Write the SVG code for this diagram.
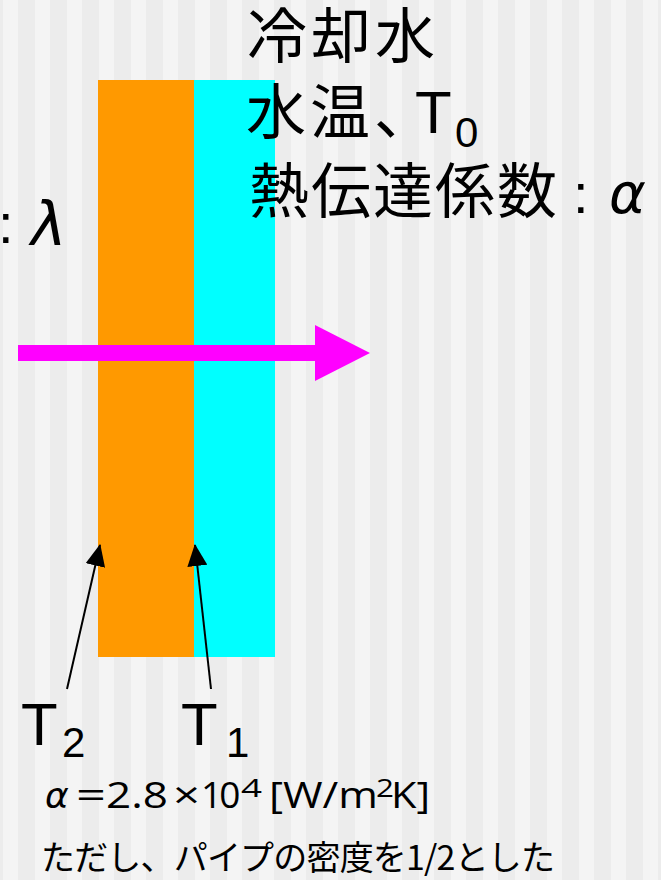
<svg xmlns="http://www.w3.org/2000/svg" width="661" height="880" viewBox="0 0 661 880">
<style>
.jp{font-family:"Noto Sans CJK JP","Noto Sans",sans-serif;fill:#000}
.lat{font-family:"Liberation Sans","Noto Sans",sans-serif;fill:#000}
.os{font-family:"Open Sans","Noto Sans",sans-serif;fill:#000}
.gr{font-family:"DejaVu Sans","Noto Sans",sans-serif;font-style:italic;fill:#000}
.ptr{stroke:#000;stroke-width:2;fill:none;marker-end:url(#ah)}
</style>
<defs>
<pattern id="stripes" patternUnits="userSpaceOnUse" x="3" y="0" width="32" height="880">
<rect x="0" y="0" width="32" height="880" fill="#ECECEC"/>
<rect x="0" y="0" width="15" height="880" fill="#F4F4F4"/>
</pattern>
<marker id="ah" markerUnits="userSpaceOnUse" markerWidth="22" markerHeight="20" refX="21" refY="10" orient="auto" viewBox="0 0 22 20">
<path d="M0,0 L22,10 L0,20 Z" fill="#000"/>
</marker>
</defs>
<rect x="0" y="0" width="661" height="880" fill="url(#stripes)"/>
<g id="pipe-wall"><rect x="98" y="80" width="96" height="577" fill="#FF9900"/></g>
<g id="water"><rect x="194" y="80" width="81" height="577" fill="#00FFFF"/></g>
<g id="heat-flow"><path d="M18,345 L315,345 L315,325 L370,353 L315,381 L315,361 L18,361 Z" fill="#FF00FF"/></g>
<g id="water-label">
<text class="jp" x="247" y="58" font-size="60" letter-spacing="4">冷却水</text>
<text class="jp" x="246" y="134" font-size="60" letter-spacing="4">水温、</text>
<text class="lat" x="415" y="133" font-size="60">T</text>
<text class="lat" x="455" y="147" font-size="42">0</text>
<text class="jp" x="249" y="213" font-size="60" letter-spacing="2">熱伝達係数</text>
<text class="lat" x="573" y="213" font-size="56">:</text>
<text class="gr" x="609" y="213" font-size="56">α</text>
</g>
<g id="wall-label">
<text class="lat" x="-2" y="243" font-size="56">:</text>
<text class="gr" x="31" y="245" font-size="60">λ</text>
</g>
<g id="connectors">
<line class="ptr" x1="67" y1="689" x2="100" y2="545"/>
<line class="ptr" x1="211" y1="689" x2="195" y2="545"/>
</g>
<g id="t2-label">
<text class="lat" x="21" y="745" font-size="60">T</text>
<text class="lat" x="62" y="757" font-size="42">2</text>
</g>
<g id="t1-label">
<text class="lat" x="181" y="745" font-size="60">T</text>
<text class="lat" x="226" y="757" font-size="42">1</text>
</g>
<g id="alpha-value">
<text class="gr" x="45" y="808" font-size="36">α</text>
<text class="os" x="76" y="808" font-size="37" textLength="30" lengthAdjust="spacingAndGlyphs">=</text>
<text class="os" x="106" y="808" font-size="37" textLength="62" lengthAdjust="spacingAndGlyphs">2.8</text>
<text class="os" x="173" y="808" font-size="37" textLength="27" lengthAdjust="spacingAndGlyphs">×</text>
<text class="os" x="201" y="808" font-size="37" letter-spacing="-3">10</text>
<text class="os" x="241" y="797" font-size="25" textLength="21" lengthAdjust="spacingAndGlyphs">4</text>
<text class="os" x="269" y="808" font-size="37" textLength="109" lengthAdjust="spacingAndGlyphs">[W/m</text>
<text class="os" x="376" y="797" font-size="25" textLength="18" lengthAdjust="spacingAndGlyphs">2</text>
<text class="os" x="391" y="808" font-size="37" textLength="39" lengthAdjust="spacingAndGlyphs">K]</text>
</g>
<g id="note">
<text class="jp" x="41" y="870" font-size="34" textLength="514">ただし、パイプの密度を1/2とした</text>
</g>
</svg>
